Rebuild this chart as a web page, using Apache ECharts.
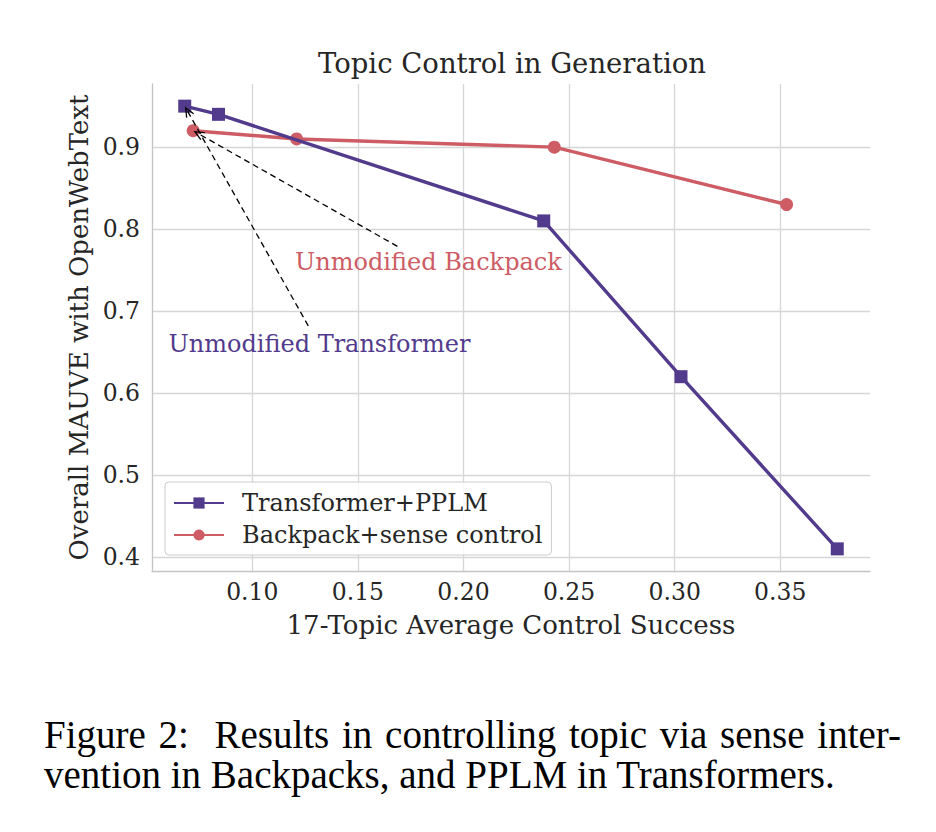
<!DOCTYPE html>
<html>
<head>
<meta charset="utf-8">
<script src="https://cdn.jsdelivr.net/npm/echarts@6/dist/echarts.min.js"></script>
<style>
html,body{margin:0;padding:0;background:#fff;}
#wrap{position:relative;width:936px;height:832px;}
#chart{position:absolute;left:0;top:0;width:936px;height:832px;}
#caption{position:absolute;left:44px;top:715px;width:857px;font-family:'Liberation Serif','Times New Roman',serif;font-size:39px;line-height:40px;color:#000;}
#caption .l1{text-align:justify;text-align-last:justify;display:block;}
#caption .l2{display:block;white-space:nowrap;}
</style>
</head>
<body>
<div id="wrap">
<div id="chart"></div>
<div id="caption"></div>
</div>
<script>
// ---- data ----
const seriesNames = ['Transformer+PPLM', 'Backpack+sense control'];
const transformerX = [0.068, 0.084, 0.238, 0.303, 0.377];
const transformerY = [0.95, 0.94, 0.81, 0.62, 0.41];
const backpackX = [0.072, 0.121, 0.243, 0.353];
const backpackY = [0.92, 0.91, 0.90, 0.83];
const annotationTexts = ['Unmodified Backpack', 'Unmodified Transformer'];
const annotationTextPos = [[0.1834, 0.7594], [0.1318, 0.660]];
const annotationArrowFrom = [[0.1687, 0.779], [0.1265, 0.682]];
const annotationArrowTo = [[0.072, 0.92], [0.068, 0.95]];
const titleText = 'Topic Control in Generation';
const xAxisName = '17-Topic Average Control Success';
const yAxisName = 'Overall MAUVE with OpenWebText';
const captionLines = ['Figure 2:\u00a0 Results in controlling topic via sense inter-', 'vention in Backpacks, and PPLM in Transformers.'];

const PURPLE = '#523b8c';
const RED = '#cd5c65';
const TXT = '#262626';
const GRID = '#d6d6d6';
const SERIF = "'DejaVu Serif', serif";

const zip = (xs, ys) => xs.map((x, i) => [x, ys[i]]);

// caption as real HTML text
(function () {
  const cap = document.getElementById('caption');
  const s1 = document.createElement('span'); s1.className = 'l1';
  s1.textContent = captionLines[0];
  const s2 = document.createElement('span'); s2.className = 'l2';
  s2.textContent = captionLines[1];
  cap.appendChild(s1); cap.appendChild(s2);
})();

const chart = echarts.init(document.getElementById('chart'), null, {renderer: 'svg'});

const annColors = [RED, PURPLE];
const annData = annotationTexts.map((t, i) => [
  annotationArrowFrom[i][0], annotationArrowFrom[i][1],
  annotationArrowTo[i][0], annotationArrowTo[i][1],
  annotationTextPos[i][0], annotationTextPos[i][1], i
]);

const option = {
  animation: false,
  title: {
    text: titleText,
    left: 507, top: 44, textAlign: 'center',
    textStyle: {fontFamily: SERIF, fontWeight: 'normal', fontSize: 27.5, color: TXT}
  },
  grid: {left: 152, right: 66, top: 84, bottom: 261, containLabel: false},
  xAxis: {
    type: 'value', min: 0.0525, max: 0.3925, splitNumber: 7,
    name: xAxisName, nameLocation: 'middle', nameGap: 41,
    nameTextStyle: {fontFamily: SERIF, fontSize: 26, color: TXT},
    axisLine: {show: true, lineStyle: {color: '#c4c4c4', width: 1.3}},
    axisTick: {show: false},
    axisLabel: {fontFamily: SERIF, fontSize: 23.5, color: TXT, margin: 9,
      showMinLabel: false, showMaxLabel: false,
      formatter: v => v.toFixed(2)},
    splitLine: {show: true, showMinLine: false, showMaxLine: false, lineStyle: {color: GRID, width: 1.3}}
  },
  yAxis: {
    type: 'value', min: 0.383, max: 0.977, splitNumber: 6,
    name: yAxisName, nameLocation: 'middle', nameGap: 57, nameRotate: 90,
    nameTextStyle: {fontFamily: SERIF, fontSize: 26, color: TXT},
    axisLine: {show: true, lineStyle: {color: '#c4c4c4', width: 1.3}},
    axisTick: {show: false},
    axisLabel: {fontFamily: SERIF, fontSize: 23.5, color: TXT, margin: 12,
      showMinLabel: false, showMaxLabel: false,
      formatter: v => v.toFixed(1)},
    splitLine: {show: true, showMinLine: false, showMaxLine: false, lineStyle: {color: GRID, width: 1.3}}
  },
  legend: {
    orient: 'vertical', left: 165, top: 482,
    padding: [9, 9, 8, 8],
    itemWidth: 50, itemHeight: 14, itemGap: 8,
    backgroundColor: 'rgba(255,255,255,0.85)',
    borderColor: '#cccccc', borderWidth: 1, borderRadius: 4,
    textStyle: {fontFamily: SERIF, fontSize: 24, color: TXT, padding: [0, 0, 0, 13]},
    data: seriesNames
  },
  series: [
    {
      name: seriesNames[0], type: 'line', data: zip(transformerX, transformerY),
      symbol: 'rect', symbolSize: 13, z: 3,
      lineStyle: {color: PURPLE, width: 3.4},
      itemStyle: {color: PURPLE}
    },
    {
      name: seriesNames[1], type: 'line', data: zip(backpackX, backpackY),
      symbol: 'circle', symbolSize: 13, z: 2,
      lineStyle: {color: RED, width: 3.4},
      itemStyle: {color: RED}
    },
    {
      type: 'custom', silent: true, z: 5,
      data: annData,
      encode: {x: [0, 2, 4], y: [1, 3, 5]},
      renderItem: function (params, api) {
        const p0 = api.coord([api.value(0), api.value(1)]);
        const p1 = api.coord([api.value(2), api.value(3)]);
        const pt = api.coord([api.value(4), api.value(5)]);
        const idx = api.value(6);
        const dx = p1[0] - p0[0], dy = p1[1] - p0[1];
        const L = Math.sqrt(dx * dx + dy * dy);
        const ux = dx / L, uy = dy / L;
        const e = [p1[0] - ux * 2, p1[1] - uy * 2];
        const ah = 9, aw = 4;
        const b = [e[0] - ux * ah, e[1] - uy * ah];
        const h1 = [b[0] - uy * aw, b[1] + ux * aw];
        const h2 = [b[0] + uy * aw, b[1] - ux * aw];
        return {
          type: 'group',
          children: [
            {type: 'line', shape: {x1: p0[0], y1: p0[1], x2: e[0], y2: e[1]},
              style: {stroke: '#000', lineWidth: 1.3, lineDash: [6, 4]}},
            {type: 'polyline', shape: {points: [h1, e, h2]},
              style: {stroke: '#000', lineWidth: 1.3, fill: null}},
            {type: 'text', x: pt[0], y: pt[1],
              style: {text: annotationTexts[idx], fill: annColors[idx], fontFamily: SERIF, fontSize: 24,
                align: 'center', verticalAlign: 'middle'}}
          ]
        };
      }
    }
  ]
};
chart.setOption(option);
</script>
</body>
</html>
